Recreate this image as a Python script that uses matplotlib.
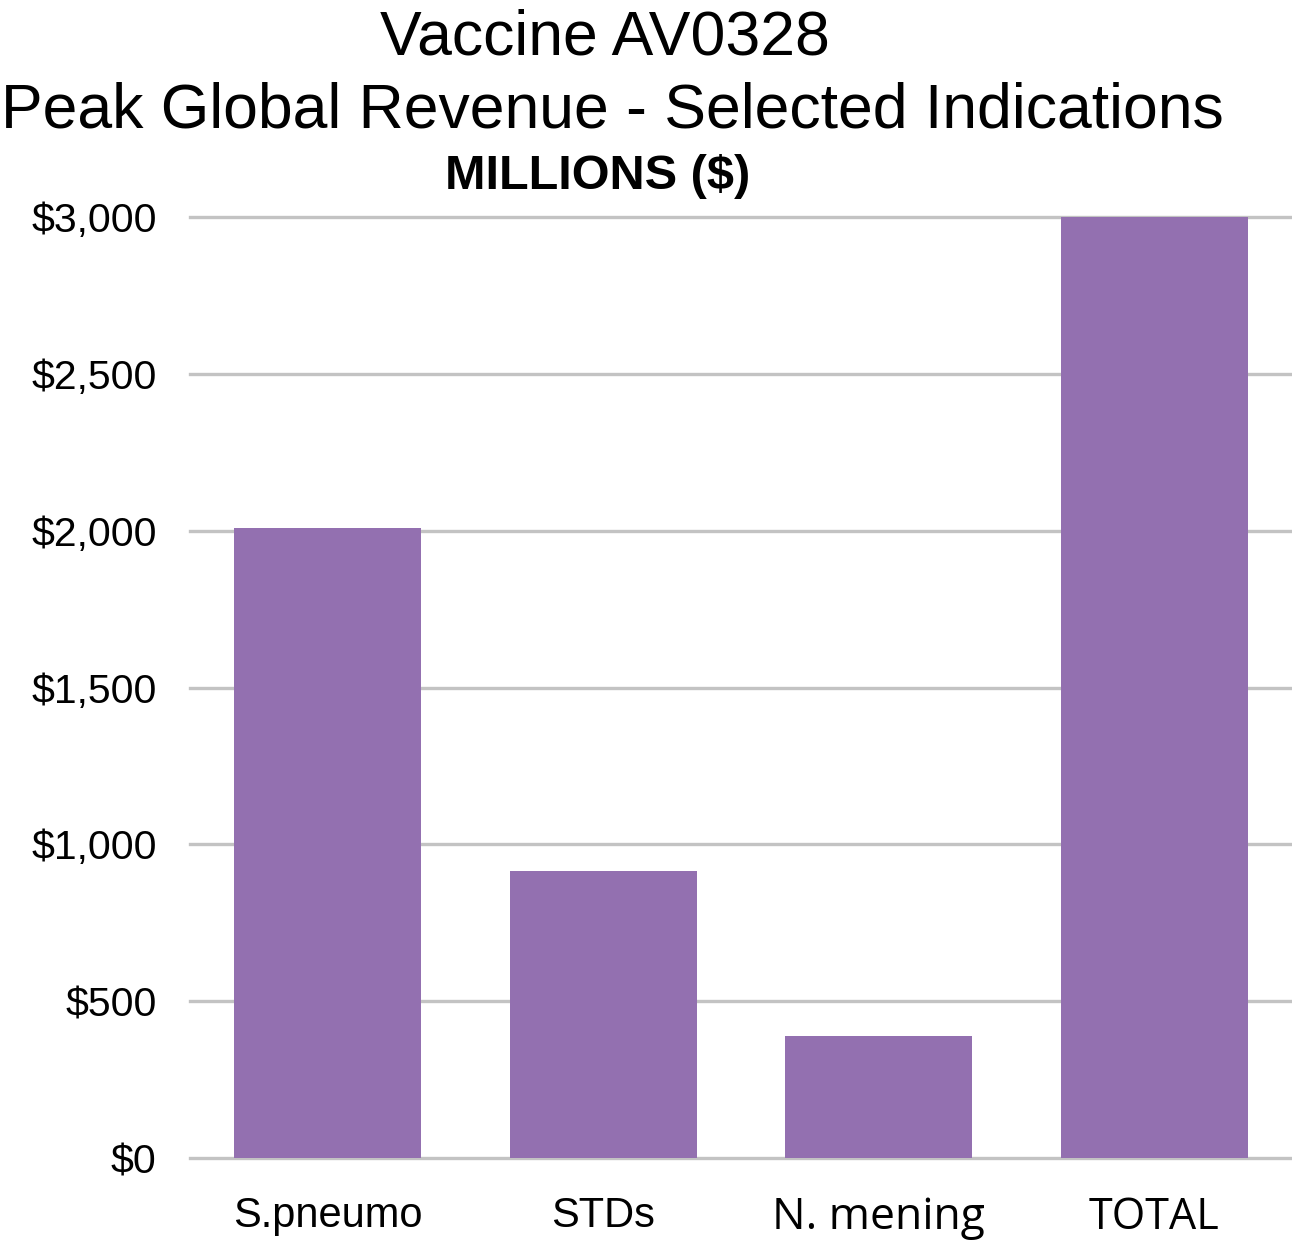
import matplotlib
matplotlib.use("Agg")
import matplotlib.pyplot as plt

categories = ["S.pneumo", "STDs", "N. mening", "TOTAL"]
revenue = [2010, 915, 390, 3000]
yticks = [0, 500, 1000, 1500, 2000, 2500, 3000]
ytick_labels = ["$0", "$500", "$1,000", "$1,500", "$2,000", "$2,500", "$3,000"]

BAR_COLOR = "#9370b0"
GRID_COLOR = "#c3c3c3"

plt.rcParams["font.family"] = ["Liberation Sans", "DejaVu Sans"]

fig = plt.figure(figsize=(12.92, 12.42), dpi=100)
ax = fig.add_axes([0.147, 0.0676, 0.853, 0.7577])

x = range(len(categories))
ax.bar(x, revenue, width=0.68, color=BAR_COLOR, zorder=3)

ax.set_ylim(0, 3000)
ax.set_xlim(-0.5, len(categories) - 0.5)
ax.set_yticks(yticks)
ax.set_yticklabels(ytick_labels, fontsize=29.5)
ax.set_xticks(list(x))
ax.set_xticklabels(categories, fontsize=30)
# the last two category labels are set in a different face in the original
for t in ax.get_xticklabels()[2:]:
    t.set_family(["Open Sans", "DejaVu Sans"])
ax.get_xticklabels()[2].set_fontsize(32)
ax.get_xticklabels()[3].set_fontsize(31)

for v in yticks:
    ax.axhline(v, color=GRID_COLOR, linewidth=2.4, zorder=1, clip_on=False)

ax.tick_params(axis="y", length=0, pad=24)
ax.tick_params(axis="x", length=0, pad=27)
for s in ax.spines.values():
    s.set_visible(False)

fig.text(0.468, 0.956, "Vaccine AV0328", ha="center", va="baseline", fontsize=45)
fig.text(0.474, 0.897, "Peak Global Revenue - Selected Indications",
         ha="center", va="baseline", fontsize=45)
fig.text(0.4625, 0.848, "MILLIONS ($)", ha="center", va="baseline",
         fontsize=35, fontweight="bold")

fig.savefig("out.png", dpi=100)
